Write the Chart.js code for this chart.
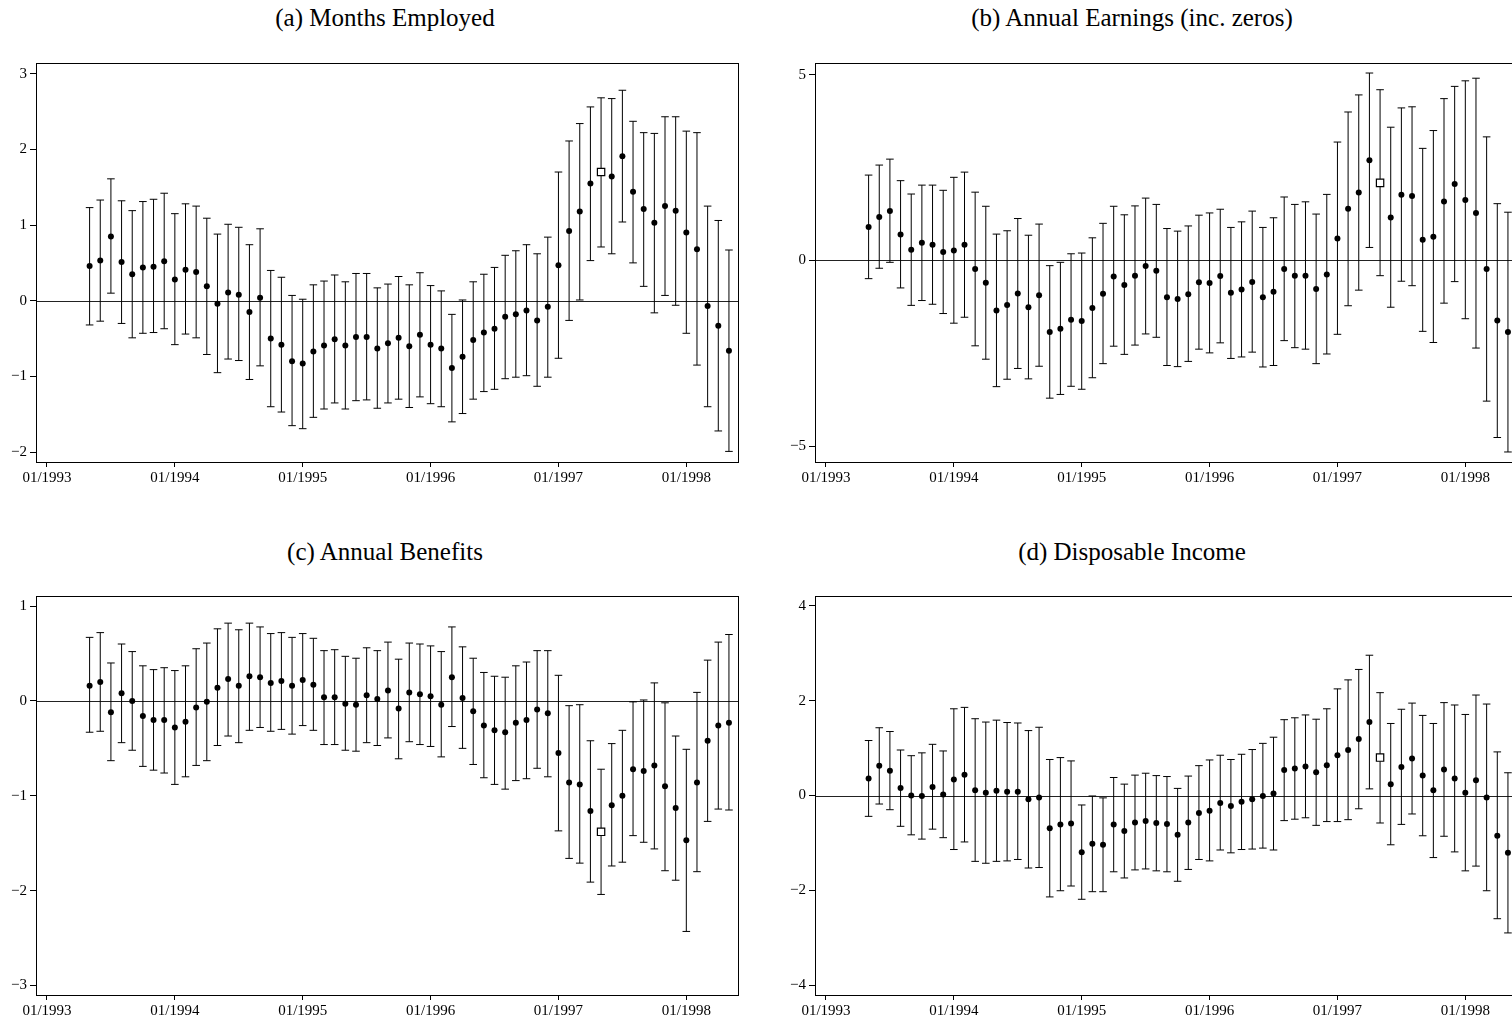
<!DOCTYPE html>
<html>
<head>
<meta charset="utf-8">
<script src="https://cdn.jsdelivr.net/npm/chart.js@4.4.0/dist/chart.umd.min.js"></script>
<style>
  body { margin: 0; background: #fff; width: 1512px; height: 1021px; overflow: hidden; position: relative; }
  canvas { position: absolute; }
  .title { position: absolute; width: 700px; text-align: center; font-family: "Liberation Serif", serif; font-size: 25px; line-height: 24px; color: #000; }
</style>
</head>
<body>
<div class="title" style="left:35px;top:6px">(a) Months Employed</div>
<div class="title" style="left:782px;top:6px">(b) Annual Earnings (inc. zeros)</div>
<div class="title" style="left:35px;top:540px">(c) Annual Benefits</div>
<div class="title" style="left:782px;top:540px">(d) Disposable Income</div>

<canvas id="employed" width="760" height="500" style="left:0;top:0"></canvas>
<canvas id="earnings" width="760" height="500" style="left:779px;top:0"></canvas>
<canvas id="benefits" width="760" height="500" style="left:0;top:533px"></canvas>
<canvas id="income" width="760" height="500" style="left:779px;top:533px"></canvas>

<script>
// months since 01/1993 (05/1993 ... 05/1998)
const months = [4, 5, 6, 7, 8, 9, 10, 11, 12, 13, 14, 15, 16, 17, 18, 19, 20, 21, 22, 23,
  24, 25, 26, 27, 28, 29, 30, 31, 32, 33, 34, 35, 36, 37, 38, 39, 40, 41, 42, 43,
  44, 45, 46, 47, 48, 49, 50, 51, 52, 53, 54, 55, 56, 57, 58, 59, 60, 61, 62, 63, 64];
const refMonth = 52; // hollow square marker

const xTicks = [0, 12, 24, 36, 48, 60];
const xTickLabels = ['01/1993', '01/1994', '01/1995', '01/1996', '01/1997', '01/1998'];

// (a) Months Employed
const employedEst = [0.46, 0.53, 0.85, 0.51, 0.35, 0.44, 0.45, 0.52, 0.28, 0.41,
  0.38, 0.19, -0.04, 0.11, 0.08, -0.15, 0.04, -0.50, -0.58, -0.80,
  -0.83, -0.67, -0.59, -0.51, -0.59, -0.48, -0.48, -0.63, -0.56, -0.49,
  -0.60, -0.45, -0.58, -0.63, -0.89, -0.74, -0.52, -0.42, -0.37, -0.21,
  -0.18, -0.13, -0.26, -0.08, 0.47, 0.92, 1.18, 1.55, 1.70, 1.64,
  1.91, 1.44, 1.21, 1.03, 1.25, 1.19, 0.90, 0.68, -0.07, -0.33, -0.66];
const employedHi = [1.23, 1.33, 1.61, 1.32, 1.19, 1.31, 1.34, 1.42, 1.15, 1.28,
  1.25, 1.09, 0.88, 1.01, 0.97, 0.74, 0.95, 0.40, 0.31, 0.07,
  0.02, 0.21, 0.26, 0.34, 0.25, 0.36, 0.36, 0.17, 0.22, 0.32,
  0.21, 0.37, 0.20, 0.13, -0.18, 0.01, 0.25, 0.35, 0.44, 0.60,
  0.66, 0.74, 0.62, 0.84, 1.70, 2.11, 2.34, 2.56, 2.68, 2.67,
  2.78, 2.37, 2.22, 2.21, 2.43, 2.43, 2.24, 2.22, 1.25, 1.06, 0.67];
const employedLo = [-0.32, -0.27, 0.10, -0.30, -0.49, -0.43, -0.42, -0.37, -0.58, -0.44,
  -0.49, -0.71, -0.95, -0.77, -0.79, -1.04, -0.86, -1.40, -1.47, -1.65,
  -1.69, -1.54, -1.43, -1.35, -1.43, -1.32, -1.31, -1.42, -1.35, -1.30,
  -1.41, -1.27, -1.36, -1.40, -1.60, -1.49, -1.30, -1.20, -1.17, -1.03,
  -1.01, -0.99, -1.13, -1.01, -0.76, -0.26, 0.01, 0.53, 0.71, 0.62,
  1.04, 0.50, 0.19, -0.16, 0.07, -0.06, -0.43, -0.85, -1.40, -1.72, -1.99];
const employedTicks = [-2, -1, 0, 1, 2, 3];

// (b) Annual Earnings (inc. zeros)
const earningsEst = [0.90, 1.17, 1.33, 0.70, 0.29, 0.48, 0.42, 0.23, 0.27, 0.42,
  -0.23, -0.60, -1.35, -1.20, -0.89, -1.26, -0.94, -1.93, -1.84, -1.60,
  -1.63, -1.28, -0.90, -0.43, -0.66, -0.41, -0.15, -0.28, -0.99, -1.04,
  -0.91, -0.59, -0.61, -0.42, -0.87, -0.78, -0.58, -0.99, -0.84, -0.23,
  -0.41, -0.41, -0.77, -0.38, 0.59, 1.39, 1.83, 2.70, 2.09, 1.16,
  1.77, 1.74, 0.56, 0.64, 1.59, 2.06, 1.63, 1.28, -0.23, -1.62, -1.93];
const earningsHi = [2.30, 2.57, 2.73, 2.15, 1.79, 2.03, 2.03, 1.89, 2.24, 2.38,
  1.84, 1.46, 0.71, 0.80, 1.13, 0.68, 0.98, -0.14, -0.05, 0.18,
  0.20, 0.61, 1.00, 1.46, 1.23, 1.47, 1.68, 1.51, 0.86, 0.79,
  0.93, 1.22, 1.28, 1.38, 0.89, 1.04, 1.33, 0.89, 1.15, 1.71,
  1.51, 1.58, 1.25, 1.78, 3.19, 4.00, 4.46, 5.05, 4.60, 3.59,
  4.11, 4.14, 3.02, 3.50, 4.36, 4.69, 4.84, 4.91, 3.33, 1.53, 1.30];
const earningsLo = [-0.49, -0.21, -0.05, -0.74, -1.21, -1.08, -1.18, -1.43, -1.69, -1.53,
  -2.30, -2.66, -3.40, -3.20, -2.91, -3.19, -2.85, -3.71, -3.61, -3.39,
  -3.47, -3.16, -2.78, -2.31, -2.53, -2.28, -1.98, -2.07, -2.83, -2.86,
  -2.72, -2.39, -2.49, -2.22, -2.64, -2.60, -2.47, -2.87, -2.83, -2.16,
  -2.35, -2.39, -2.78, -2.52, -1.99, -1.22, -0.80, 0.35, -0.41, -1.26,
  -0.56, -0.68, -1.91, -2.21, -1.15, -0.57, -1.57, -2.36, -3.79, -4.77, -5.16];
const earningsTicks = [-5, 0, 5];

// (c) Annual Benefits
const benefitsEst = [0.16, 0.20, -0.12, 0.08, 0.00, -0.16, -0.20, -0.20, -0.28, -0.22,
  -0.07, -0.01, 0.14, 0.23, 0.16, 0.26, 0.25, 0.19, 0.21, 0.16,
  0.22, 0.17, 0.04, 0.04, -0.03, -0.04, 0.06, 0.02, 0.11, -0.08,
  0.09, 0.07, 0.05, -0.04, 0.25, 0.03, -0.11, -0.26, -0.31, -0.33,
  -0.23, -0.20, -0.09, -0.13, -0.55, -0.86, -0.88, -1.16, -1.38, -1.10,
  -1.00, -0.72, -0.74, -0.68, -0.90, -1.13, -1.47, -0.86, -0.42, -0.26, -0.23];
const benefitsHi = [0.67, 0.72, 0.40, 0.60, 0.52, 0.37, 0.33, 0.35, 0.32, 0.37,
  0.55, 0.61, 0.76, 0.82, 0.75, 0.82, 0.78, 0.71, 0.72, 0.67,
  0.71, 0.66, 0.53, 0.54, 0.47, 0.45, 0.56, 0.53, 0.62, 0.44,
  0.61, 0.60, 0.58, 0.52, 0.78, 0.57, 0.45, 0.30, 0.26, 0.25,
  0.37, 0.41, 0.53, 0.53, 0.27, -0.05, -0.04, -0.42, -0.72, -0.45,
  -0.31, -0.01, 0.01, 0.19, -0.02, -0.37, -0.51, 0.09, 0.43, 0.62, 0.70];
const benefitsLo = [-0.33, -0.32, -0.63, -0.44, -0.52, -0.69, -0.73, -0.76, -0.88, -0.80,
  -0.68, -0.63, -0.47, -0.37, -0.44, -0.31, -0.28, -0.32, -0.30, -0.35,
  -0.26, -0.31, -0.46, -0.46, -0.52, -0.53, -0.44, -0.47, -0.39, -0.61,
  -0.43, -0.46, -0.48, -0.59, -0.27, -0.50, -0.67, -0.81, -0.88, -0.93,
  -0.84, -0.82, -0.71, -0.80, -1.37, -1.66, -1.71, -1.91, -2.04, -1.74,
  -1.70, -1.42, -1.49, -1.56, -1.79, -1.89, -2.43, -1.80, -1.27, -1.14, -1.15];
const benefitsTicks = [-3, -2, -1, 0, 1];

// (d) Disposable Income
const incomeEst = [0.36, 0.63, 0.52, 0.16, 0.00, -0.01, 0.18, 0.02, 0.34, 0.44,
  0.11, 0.06, 0.10, 0.08, 0.08, -0.08, -0.04, -0.69, -0.61, -0.59,
  -1.20, -1.02, -1.04, -0.61, -0.75, -0.57, -0.54, -0.58, -0.60, -0.83,
  -0.57, -0.37, -0.32, -0.16, -0.22, -0.13, -0.08, -0.01, 0.04, 0.54,
  0.57, 0.61, 0.49, 0.64, 0.85, 0.96, 1.19, 1.55, 0.80, 0.24,
  0.60, 0.78, 0.42, 0.11, 0.55, 0.36, 0.06, 0.32, -0.04, -0.85, -1.21];
const incomeHi = [1.16, 1.43, 1.35, 0.96, 0.84, 0.90, 1.08, 0.94, 1.83, 1.86,
  1.62, 1.55, 1.59, 1.54, 1.53, 1.37, 1.44, 0.76, 0.80, 0.73,
  -0.20, -0.01, -0.05, 0.38, 0.24, 0.43, 0.47, 0.42, 0.40, 0.15,
  0.41, 0.63, 0.75, 0.85, 0.76, 0.87, 0.97, 1.10, 1.23, 1.60,
  1.64, 1.70, 1.61, 1.83, 2.25, 2.44, 2.66, 2.96, 2.17, 1.52,
  1.82, 1.95, 1.69, 1.52, 1.96, 1.91, 1.71, 2.12, 1.93, 0.92, 0.48];
const incomeLo = [-0.44, -0.18, -0.30, -0.65, -0.83, -0.92, -0.71, -0.89, -1.14, -0.98,
  -1.39, -1.43, -1.39, -1.38, -1.35, -1.53, -1.52, -2.14, -2.01, -1.91,
  -2.19, -2.03, -2.03, -1.61, -1.74, -1.57, -1.55, -1.59, -1.61, -1.81,
  -1.56, -1.35, -1.38, -1.15, -1.21, -1.14, -1.13, -1.11, -1.15, -0.53,
  -0.50, -0.47, -0.63, -0.55, -0.55, -0.51, -0.28, 0.14, -0.58, -1.04,
  -0.61, -0.39, -0.85, -1.31, -0.86, -1.19, -1.59, -1.49, -2.01, -2.60, -2.90];
const incomeTicks = [-4, -2, 0, 2, 4];

const tickFont = { family: 'Liberation Serif', size: 15 };

// zero line + error bars under the points, frame on top
const errorBars = {
  id: 'errorBars',
  beforeDatasetsDraw(chart, args, opts) {
    const { ctx, chartArea: a, scales: { x, y } } = chart;
    ctx.save();
    ctx.lineWidth = 1;
    ctx.strokeStyle = '#222';
    const y0 = Math.round(y.getPixelForValue(0)) + 0.5;
    ctx.beginPath();
    ctx.moveTo(a.left, y0);
    ctx.lineTo(a.right, y0);
    ctx.stroke();
    ctx.strokeStyle = '#000';
    opts.lo.forEach(function (lo, i) {
      const px = x.getPixelForValue(months[i]);
      const pl = y.getPixelForValue(lo);
      const ph = y.getPixelForValue(opts.hi[i]);
      ctx.beginPath();
      ctx.moveTo(px, pl); ctx.lineTo(px, ph);
      ctx.moveTo(px - 3.8, pl); ctx.lineTo(px + 3.8, pl);
      ctx.moveTo(px - 3.8, ph); ctx.lineTo(px + 3.8, ph);
      ctx.stroke();
    });
    ctx.restore();
  },
  afterDraw(chart) {
    const { ctx, chartArea: a } = chart;
    ctx.save();
    ctx.strokeStyle = '#000';
    ctx.lineWidth = 1;
    ctx.strokeRect(Math.round(a.left) + 0.5, Math.round(a.top) + 0.5,
      Math.round(a.right - a.left), Math.round(a.bottom - a.top));
    ctx.restore();
  }
};

function fmt(v) {
  return v < 0 ? '\u2212' + Math.abs(v) : String(v);
}

function makePanel(id, est, lo, hi, yMin, yMax, yTicks) {
  const ctx = document.getElementById(id).getContext('2d');
  new Chart(ctx, {
    type: 'scatter',
    data: {
      datasets: [{
        data: months.map((m, i) => ({ x: m, y: est[i] })),
        pointStyle: c => months[c.dataIndex] === refMonth ? 'rect' : 'circle',
        pointRadius: c => months[c.dataIndex] === refMonth ? 5.2 : 3,
        pointBackgroundColor: c => months[c.dataIndex] === refMonth ? '#fff' : '#000',
        pointBorderColor: '#000',
        pointBorderWidth: c => months[c.dataIndex] === refMonth ? 1.2 : 0
      }]
    },
    options: {
      responsive: false,
      animation: false,
      devicePixelRatio: 1,
      layout: { padding: { top: 63, right: 22, left: 0, bottom: 0 } },
      plugins: {
        legend: { display: false },
        tooltip: { enabled: false },
        errorBars: { lo: lo, hi: hi }
      },
      scales: {
        x: {
          type: 'linear',
          min: -1.03,
          max: 64.85,
          afterBuildTicks: ax => { ax.ticks = xTicks.map(v => ({ value: v })); },
          afterFit: ax => { ax.height = 38; },
          grid: { drawOnChartArea: false, drawTicks: true, tickLength: 5, color: '#000' },
          border: { display: false },
          ticks: {
            autoSkip: false, maxRotation: 0, padding: 2, color: '#000', font: tickFont,
            callback: v => xTickLabels[xTicks.indexOf(v)]
          }
        },
        y: {
          min: yMin,
          max: yMax,
          afterBuildTicks: ax => { ax.ticks = yTicks.map(v => ({ value: v })); },
          afterFit: ax => { ax.width = 36; },
          grid: { drawOnChartArea: false, drawTicks: true, tickLength: 6, color: '#000' },
          border: { display: false },
          ticks: { padding: 3, color: '#000', font: tickFont, callback: v => fmt(v) }
        }
      }
    },
    plugins: [errorBars]
  });
}

document.addEventListener('DOMContentLoaded', function () {
  makePanel('employed', employedEst, employedLo, employedHi, -2.13, 3.14, employedTicks);
  makePanel('earnings', earningsEst, earningsLo, earningsHi, -5.43, 5.32, earningsTicks);
  makePanel('benefits', benefitsEst, benefitsLo, benefitsHi, -3.10, 1.106, benefitsTicks);
  makePanel('income', incomeEst, incomeLo, incomeHi, -4.21, 4.21, incomeTicks);
});
</script>
</body>
</html>
